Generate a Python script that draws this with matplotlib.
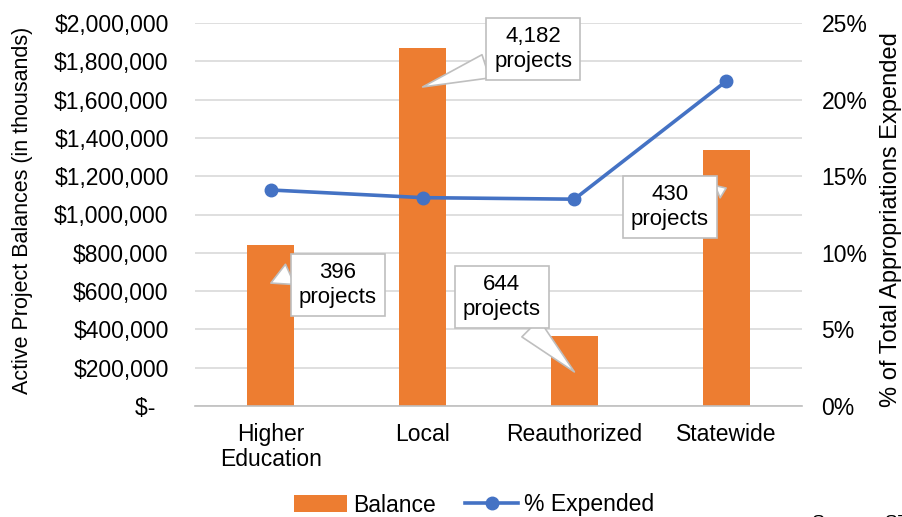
import numpy as np
import matplotlib
matplotlib.use("Agg")
import matplotlib.pyplot as plt
from matplotlib.ticker import FuncFormatter, MultipleLocator

plt.rcParams['font.family'] = ['Liberation Sans', 'DejaVu Sans']

# data
categories = ['Higher\nEducation', 'Local', 'Reauthorized', 'Statewide']
balance = [840000, 1869000, 366000, 1337000]
pct_expended = [14.1, 13.6, 13.5, 21.2]
project_counts = ['396', '4,182', '644', '430']

orange = '#ED7D31'
blue = '#4472C4'
grid_c = '#D9D9D9'

fig = plt.figure(figsize=(9.03, 5.17), dpi=100)
ax = fig.add_axes([195/903, 1-406/517, 607/903, 383/517])
x = np.arange(len(categories))

ax.bar(x, balance, width=0.31, color=orange, zorder=2, label='Balance')
ax.set_xlim(-0.5, 3.5)
ax.set_ylim(0, 2000000)
ax.yaxis.set_major_locator(MultipleLocator(200000))
ax.yaxis.set_major_formatter(FuncFormatter(lambda v, p: '$-  ' if v == 0 else '${:,.0f}'.format(v)))
ax.set_axisbelow(True)
ax.yaxis.grid(True, color=grid_c, lw=1.2)
for s in ['top', 'right', 'left']:
    ax.spines[s].set_visible(False)
ax.spines['bottom'].set_color('#BFBFBF')
ax.spines['bottom'].set_linewidth(1.2)
ax.set_xticks(x)
ax.set_xticklabels(categories, fontsize=16.5, linespacing=1.15)
ax.tick_params(axis='x', length=0, pad=12)
ax.tick_params(axis='y', length=0, pad=19, labelsize=16.5)
fig.text(23/903, 1-210/517, 'Active Project Balances (in thousands)', fontsize=15.5,
         rotation=90, ha='center', va='center')

ax2 = ax.twinx()
ax2.plot(x, pct_expended, color=blue, lw=2.6, marker='o', markersize=9, label='% Expended')
ax2.set_ylim(0, 25)
ax2.yaxis.set_major_locator(MultipleLocator(5))
ax2.yaxis.set_major_formatter(FuncFormatter(lambda v, p: '{:.0f}%'.format(v)))
ax2.tick_params(axis='y', length=0, pad=14, labelsize=16.5)
for s in ['top', 'right', 'left', 'bottom']:
    ax2.spines[s].set_visible(False)
fig.text(891.5/903, 1-220/517, '% of Total Appropriations Expended', fontsize=17,
         rotation=90, ha='center', va='center')

# callouts: text position, pointer tip (balance-axis data units), pointer base on box, base width
callouts = [
    ((0.44, 632000), (0.0, 642000), (0.0, 0.82), 1.0),
    ((1.73, 1864000), (1.0, 1666000), (0.0, 0.18), 1.1),
    ((1.52, 569000), (2.0, 178000), (0.76, 0.0), 1.1),
    ((2.63, 1039000), (3.0, 1138000), (1.0, 0.76), 0.6),
]
for cnt, (tpos, tip, rel, tw) in zip(project_counts, callouts):
    ax2.annotate(cnt + '\nprojects', xy=tip, xycoords=ax.transData,
                 xytext=tpos, textcoords=ax.transData,
                 ha='center', va='center', fontsize=16, linespacing=1.2, zorder=5,
                 bbox=dict(boxstyle='square,pad=0.36', fc='white', ec='#BFBFBF', lw=1.2),
                 arrowprops=dict(arrowstyle='wedge,tail_width=%.2f' % tw, fc='white',
                                 ec='#BFBFBF', lw=1.2, shrinkA=0, shrinkB=0, relpos=rel))

h1, l1 = ax.get_legend_handles_labels()
h2, l2 = ax2.get_legend_handles_labels()
fig.legend(h1 + h2, l1 + l2, loc='center', bbox_to_anchor=(0.525, 1-505/517),
           ncol=2, frameon=False, fontsize=16.5, handlelength=2.3,
           handletextpad=0.25, columnspacing=1.3)

fig.text(812/903, 1-515/517, 'Source: STO', fontsize=14, va='top', ha='left')

fig.savefig('out.png', dpi=100)
